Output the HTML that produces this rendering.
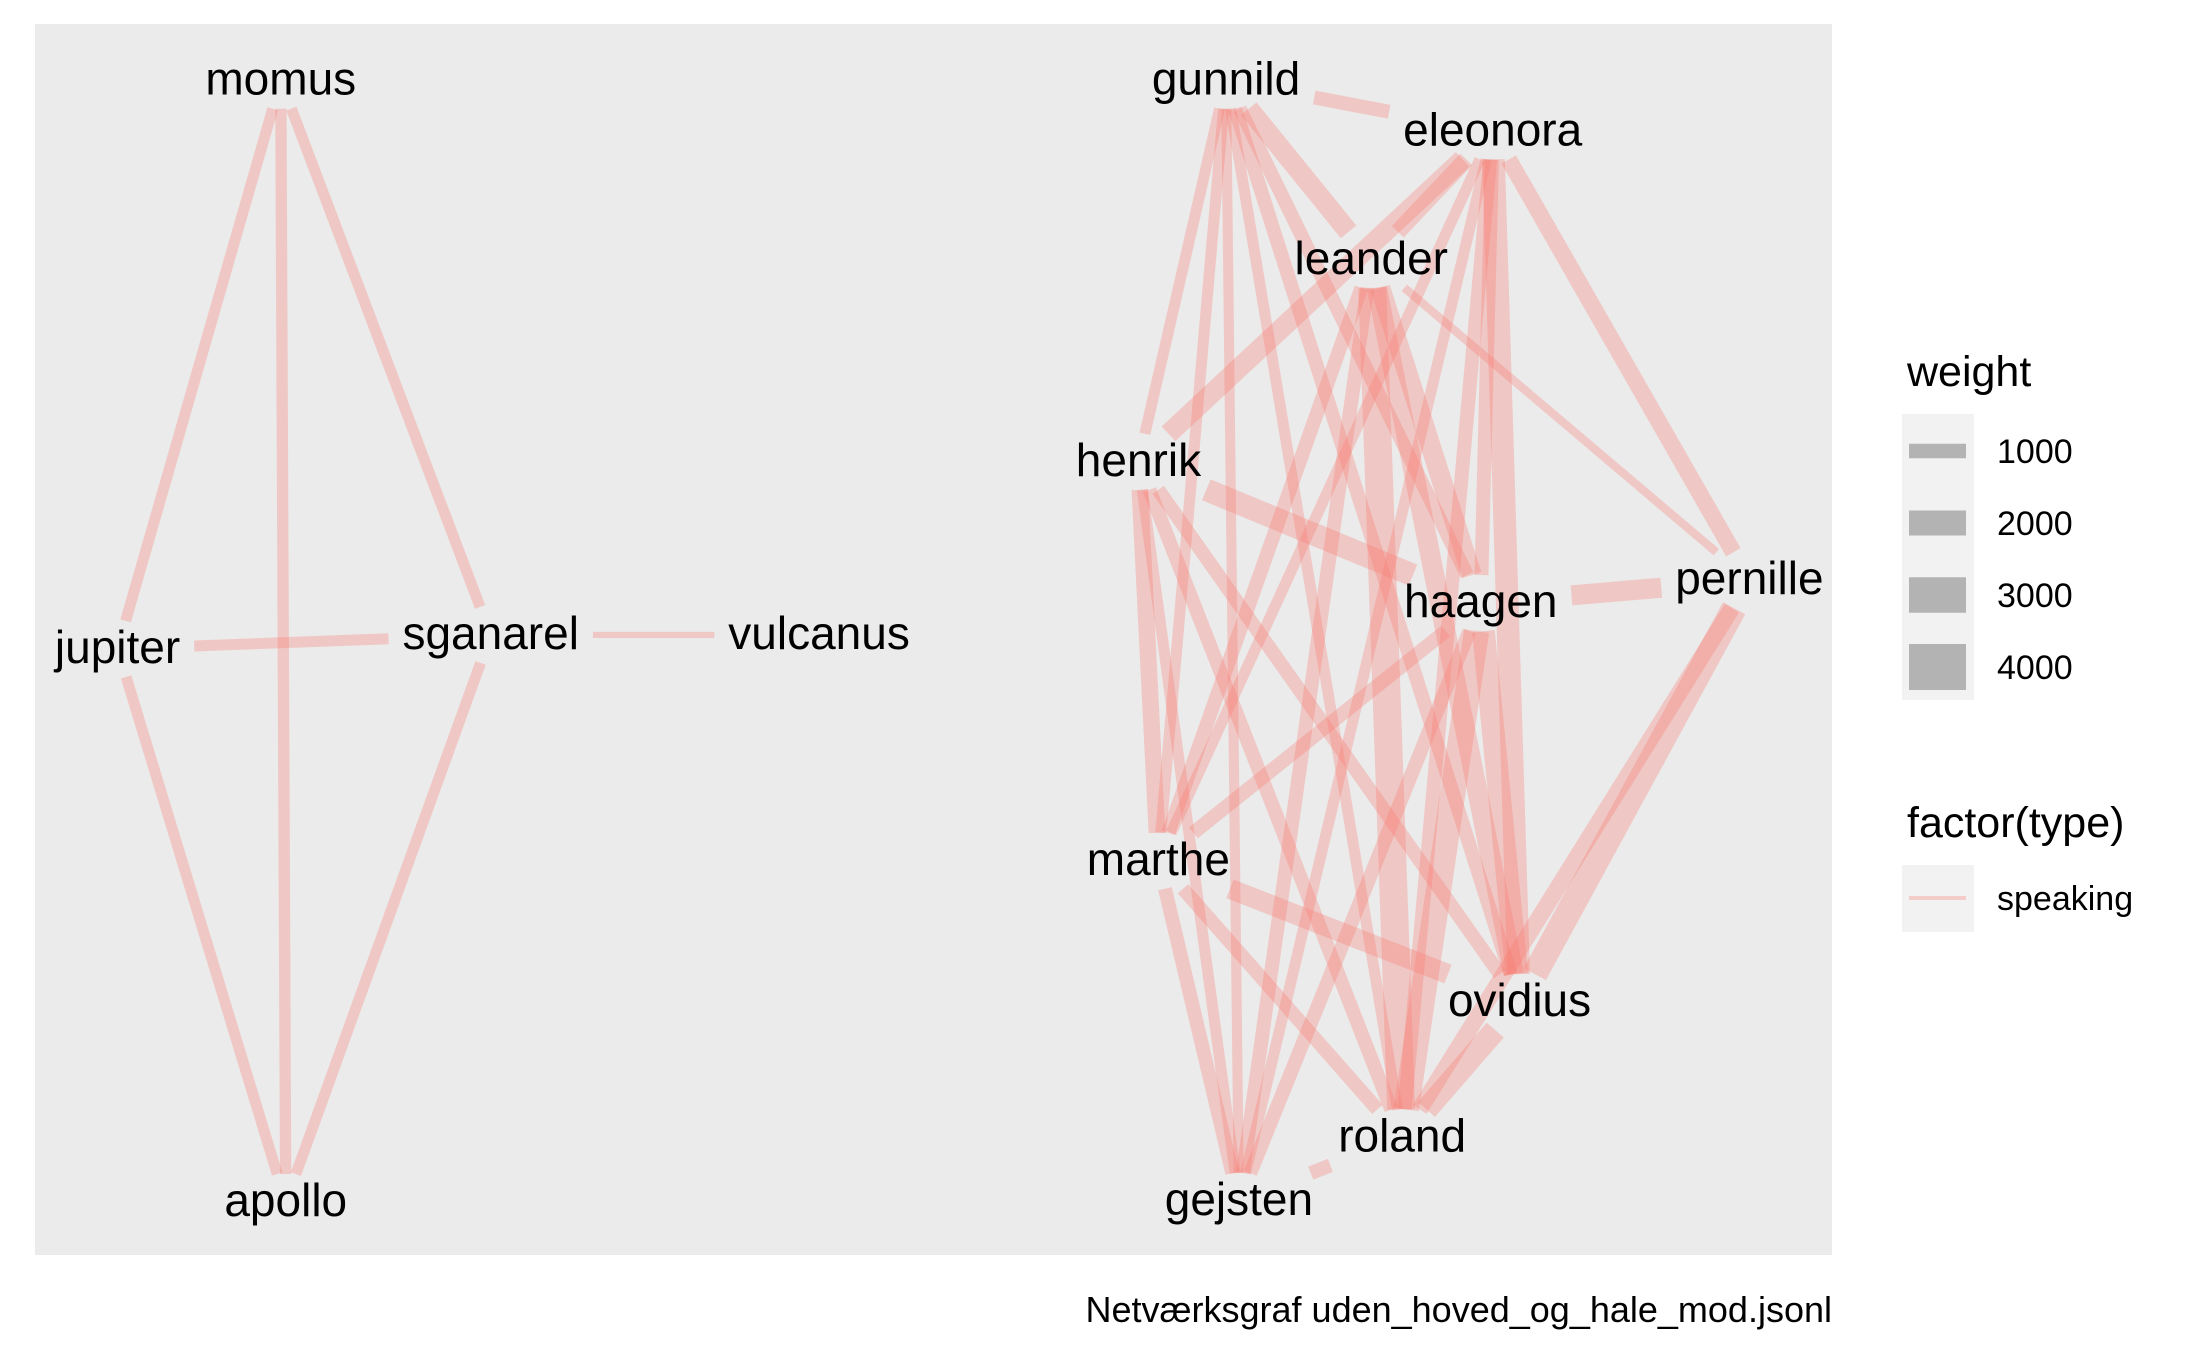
<!DOCTYPE html>
<html><head><meta charset="utf-8"><style>
html,body{margin:0;padding:0;background:#fff;}
svg{display:block;font-family:"Liberation Sans",Arial,sans-serif;}
</style></head><body>
<svg id="chart" width="2187" height="1350" viewBox="0 0 2187 1350">
<rect x="35" y="24" width="1797" height="1231" fill="#EBEBEB"/>
<g id="edges"></g>
<g id="labels"></g>
<g>
<text x="1907" y="386" font-size="43" fill="#000">weight</text>
<rect x="1902" y="414" width="72" height="286" fill="#F2F2F2"/>
<g id="wkeys"></g>
</g>
<g>
<text x="1907" y="837" font-size="43" fill="#000">factor(type)</text>
<rect x="1902" y="865" width="72" height="67" fill="#F2F2F2"/>
<line x1="1909" x2="1966" y1="898" y2="898" stroke="rgba(248,118,109,0.3)" stroke-width="4"/>
<text x="1997" y="910" font-size="34" fill="#000">speaking</text>
</g>
<text x="1832" y="1322" font-size="36" text-anchor="end" fill="#000">Netværksgraf uden_hoved_og_hale_mod.jsonl</text>
</svg>
<script>
const nodeNames = ["momus","jupiter","sganarel","vulcanus","apollo","gunnild","eleonora","leander","henrik","haagen","pernille","marthe","ovidius","roland","gejsten"];
const nodeX = [282,118,493,823,287,1232,1500,1378,1144,1488,1758,1164,1527,1409,1245];
const nodeY = [81,652,638,638,1208,81,132,261,464,606,583,865,1007,1143,1207];
const edgeFrom = ["momus","momus","momus","jupiter","jupiter","sganarel","sganarel",
"gunnild","gunnild","gunnild","gunnild","gunnild","gunnild","gunnild","gunnild",
"eleonora","eleonora","eleonora","eleonora","eleonora","eleonora","eleonora","eleonora",
"leander","leander","leander","leander","leander","leander",
"henrik","henrik","henrik","henrik","henrik",
"haagen","haagen","haagen","haagen","haagen",
"pernille","pernille","marthe","marthe","marthe","roland","roland"];
const edgeTo = ["jupiter","apollo","sganarel","sganarel","apollo","apollo","vulcanus",
"eleonora","leander","henrik","marthe","gejsten","haagen","ovidius","roland",
"leander","henrik","marthe","gejsten","haagen","ovidius","roland","pernille",
"pernille","haagen","ovidius","roland","marthe","gejsten",
"haagen","marthe","gejsten","roland","ovidius",
"pernille","marthe","roland","ovidius","gejsten",
"ovidius","roland","ovidius","roland","gejsten","ovidius","gejsten"];
const edgeWeight = [660,700,660,660,660,660,200,
950,1530,670,670,580,950,950,670,
1200,1530,670,670,950,1780,950,1200,
410,1530,1530,2280,950,950,
1780,1200,670,950,950,
1530,950,2030,1780,950,
2030,1200,1530,950,950,1780,950];
const legendWeights = [1000,2000,3000,4000];
const legendLabels = ["1000","2000","3000","4000"];

const NS="http://www.w3.org/2000/svg";
const sx = v => 35 + (v-35)*0.995, sy = v => 24 + (v-24)*0.995;
const widthScale = w => 4 + 0.0105*w;
const FS = 46;
const labelsG = document.getElementById('labels');
const halfW = {};
nodeNames.forEach((n,i)=>{
  const t=document.createElementNS(NS,'text');
  t.setAttribute('x',sx(nodeX[i])); t.setAttribute('y',sy(nodeY[i])+14);
  t.setAttribute('font-size',FS); t.setAttribute('text-anchor','middle'); t.setAttribute('fill','#000');
  t.textContent=n;
  
  
  labelsG.appendChild(t);
  let w; try{w=t.getComputedTextLength();}catch(e){w=n.length*24;}
  halfW[n]=w/2+14;
});
const HH=28;
function cut(x1,y1,x2,y2,hw){
  const dx=x2-x1, dy=y2-y1;
  const tx = dx!==0 ? hw/Math.abs(dx) : Infinity;
  const ty = dy!==0 ? HH/Math.abs(dy) : Infinity;
  return Math.min(tx,ty);
}
const edgesG=document.getElementById('edges');
edgeFrom.forEach((f,k)=>{
  const a=nodeNames.indexOf(f), b=nodeNames.indexOf(edgeTo[k]);
  const x1=sx(nodeX[a]), y1=sy(nodeY[a]), x2=sx(nodeX[b]), y2=sy(nodeY[b]);
  const t1=cut(x1,y1,x2,y2,halfW[f]), t2=cut(x1,y1,x2,y2,halfW[edgeTo[k]]);
  const dx=x2-x1, dy=y2-y1;
  const l=document.createElementNS(NS,'line');
  l.setAttribute('x1',x1+dx*t1); l.setAttribute('y1',y1+dy*t1);
  l.setAttribute('x2',x2-dx*t2); l.setAttribute('y2',y2-dy*t2);
  l.setAttribute('stroke','rgb(248,118,109)'); l.setAttribute('stroke-opacity','0.3');
  l.setAttribute('stroke-width',widthScale(edgeWeight[k]));
  
  
  edgesG.appendChild(l);
});
const wk=document.getElementById('wkeys');
legendWeights.forEach((w,i)=>{
  const cy=451+i*72, h=widthScale(w);
  const r=document.createElementNS(NS,'rect');
  r.setAttribute('x',1909); r.setAttribute('width',57);
  r.setAttribute('y',cy-h/2); r.setAttribute('height',h); r.setAttribute('fill','#B3B3B3');
  
  
  wk.appendChild(r);
  const t=document.createElementNS(NS,'text');
  t.setAttribute('x',1997); t.setAttribute('y',cy+12); t.setAttribute('font-size',34);
  t.textContent=legendLabels[i];
  
  
  wk.appendChild(t);
});
</script>
</body></html>
